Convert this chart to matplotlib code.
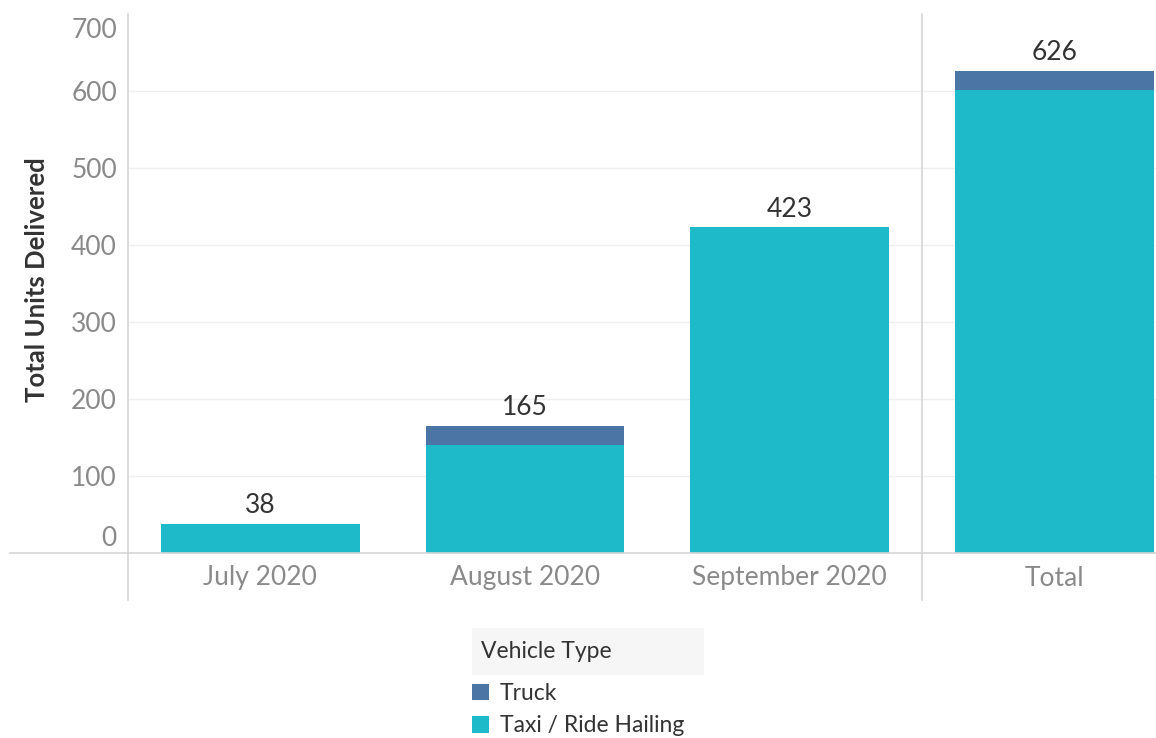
import matplotlib.pyplot as plt
from matplotlib.lines import Line2D
from matplotlib.patches import Patch, Rectangle
from matplotlib.transforms import ScaledTranslation

plt.rcParams["font.family"] = ["Lato", "DejaVu Sans"]

# data
months = ["July 2020", "August 2020", "September 2020"]
taxi = [38, 140, 423]
truck = [0, 25, 0]
total_label = "Total"
total_taxi = sum(taxi)
total_truck = sum(truck)
y_ticks = [0, 100, 200, 300, 400, 500, 600, 700]

TAXI_C = "#1fbaca"
TRUCK_C = "#4a75a5"
GRID_C = "#efefef"
AXIS_C = "#d6d6d6"
TICK_C = "#8a8a8a"
TEXT_C = "#333333"

W, H = 1156, 738
fig = plt.figure(figsize=(W / 100, H / 100), dpi=100)


def fx(px):
    return px / W


def fy(py):
    return 1 - py / H


top, base = 14, 553
ax = fig.add_axes([fx(128), fy(base), fx(922 - 128), fy(top) - fy(base)])
ax_t = fig.add_axes([fx(922), fy(base), fx(1156 - 922), fy(top) - fy(base)])

bar_w = 0.75
unit_px = (922 - 128) / 3.0

for a in (ax, ax_t):
    a.set_ylim(0, 700)
    for s in a.spines.values():
        s.set_visible(False)
    for g in y_ticks[1:-1]:
        a.axhline(g, color=GRID_C, lw=1, zorder=0)
    a.tick_params(length=0)

# monthly bars
x = list(range(len(months)))
ax.bar(x, taxi, width=bar_w, color=TAXI_C, zorder=2)
ax.bar(x, truck, width=bar_w, bottom=taxi, color=TRUCK_C, zorder=2)
ax.set_xlim(-0.5, 2.5)
ax.set_xticks(x)
ax.set_xticklabels(months, fontsize=19, color=TICK_C)
ax.tick_params(axis="x", pad=9)
for xi, a_, b_ in zip(x, taxi, truck):
    ax.annotate(str(a_ + b_), (xi, a_ + b_), xytext=(0, 4), textcoords="offset points",
                ha="center", va="bottom", fontsize=19, color=TEXT_C)

ax.set_yticks(y_ticks)
ax.set_yticklabels([str(v) for v in y_ticks], fontsize=19, color=TICK_C)
ax.tick_params(axis="y", pad=8)
ylabs = ax.get_yticklabels()
ylabs[0].set_transform(ylabs[0].get_transform() + ScaledTranslation(0, 12 / 72, fig.dpi_scale_trans))
ylabs[-1].set_transform(ylabs[-1].get_transform() + ScaledTranslation(0, -10 / 72, fig.dpi_scale_trans))

# total pane
ax_t.bar([0], [total_taxi], width=bar_w, color=TAXI_C, zorder=2)
ax_t.bar([0], [total_truck], width=bar_w, bottom=[total_taxi], color=TRUCK_C, zorder=2)
ax_t.set_xlim(-0.5, -0.5 + (1156 - 922) / unit_px)
ax_t.set_xticks([0])
ax_t.set_xticklabels([total_label], fontsize=19, color=TICK_C)
ax_t.tick_params(axis="x", pad=9)
ax_t.set_yticks([])
ax_t.annotate(str(total_taxi + total_truck), (0, total_taxi + total_truck), xytext=(0, 4),
              textcoords="offset points", ha="center", va="bottom", fontsize=19, color=TEXT_C)

# axis / pane lines
fig.add_artist(Line2D([fx(10), 1], [fy(base), fy(base)], color=AXIS_C, lw=1.2))
fig.add_artist(Line2D([fx(128), fx(128)], [fy(top), fy(600)], color=AXIS_C, lw=1.2))
fig.add_artist(Line2D([fx(922), fx(922)], [fy(top), fy(600)], color=AXIS_C, lw=1.2))

fig.text(fx(37), fy(280), "Total Units Delivered", rotation=90, ha="center", va="center",
         fontsize=18.5, fontweight="bold", color=TEXT_C)

# legend
fig.add_artist(Rectangle((fx(472), fy(675)), fx(704 - 472), fy(628) - fy(675),
                         transform=fig.transFigure, facecolor="#f6f6f6", edgecolor="none"))
fig.text(fx(481), fy(651), "Vehicle Type", ha="left", va="center", fontsize=16.5, color=TEXT_C)
handles = [Patch(facecolor=TRUCK_C), Patch(facecolor=TAXI_C)]
fig.legend(handles, ["Truck", "Taxi / Ride Hailing"], loc="upper left",
           bbox_to_anchor=(fx(456), fy(667)), frameon=False, fontsize=16.5,
           handlelength=0.75, handleheight=0.75, handletextpad=0.45, labelspacing=0.5,
           labelcolor=TEXT_C, borderpad=0.2)

fig.savefig("out.png", dpi=100)
